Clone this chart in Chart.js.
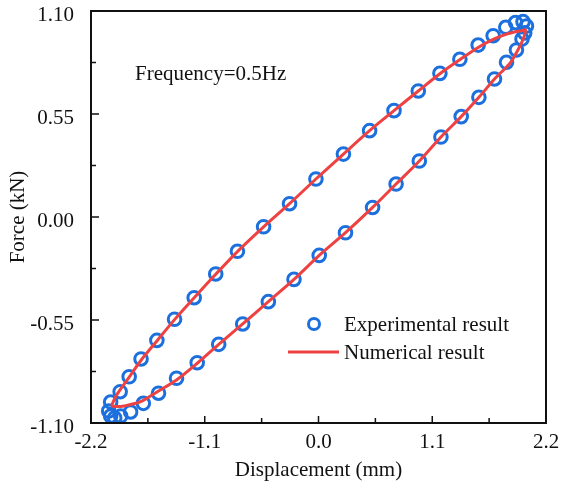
<!DOCTYPE html>
<html>
<head>
<meta charset="utf-8">
<script src="https://cdn.jsdelivr.net/npm/chart.js@4/dist/chart.umd.min.js"></script>
<style>
  html, body { margin: 0; padding: 0; background: #fff; }
  #wrap { width: 561px; height: 488px; }
</style>
</head>
<body>
<div id="wrap"><canvas id="c" width="561" height="488"></canvas></div>
<script>
// Hysteresis loop: force vs displacement at 0.5 Hz
const xTicks = [-2.2, -1.1, 0.0, 1.1, 2.2];
const yTicks = [-1.10, -0.55, 0.00, 0.55, 1.10];

// Experimental points (mm, kN), loading branch then unloading branch
const expDisp = [
  -2.029, -2.010, -1.918, -1.831, -1.716, -1.563, -1.392, -1.202, -0.994, -0.784,
  -0.531, -0.280, -0.025, 0.241, 0.494, 0.730, 0.965, 1.174, 1.367, 1.544,
  1.689, 1.811, 1.905, 1.978, 2.011,
  1.994, 1.968, 1.914, 1.818, 1.702, 1.551, 1.380, 1.184, 0.975, 0.750,
  0.523, 0.261, 0.007, -0.237, -0.485, -0.733, -0.965, -1.173, -1.373, -1.547,
  -1.694, -1.817, -1.913, -1.971, -2.010
];
const expForce = [
  -1.036, -0.988, -0.933, -0.853, -0.758, -0.659, -0.546, -0.431, -0.304, -0.183,
  -0.052, 0.071, 0.203, 0.336, 0.461, 0.568, 0.673, 0.767, 0.842, 0.918,
  0.968, 1.013, 1.038, 1.043, 1.020,
  0.983, 0.950, 0.892, 0.826, 0.737, 0.639, 0.536, 0.427, 0.299, 0.176,
  0.051, -0.084, -0.205, -0.333, -0.452, -0.571, -0.680, -0.778, -0.861, -0.941,
  -0.995, -1.041, -1.063, -1.073, -1.063
];

// Numerical model curve (closed loop)
const numDisp = [
  -2.003, -1.962, -1.897, -1.817, -1.716, -1.563, -1.392, -1.202, -0.994, -0.784,
  -0.531, -0.280, -0.025, 0.241, 0.494, 0.730, 0.965, 1.174, 1.367, 1.544,
  1.689, 1.811, 1.905, 1.965, 2.001,
  1.988, 1.962, 1.914, 1.850, 1.702, 1.551, 1.380, 1.184, 0.975, 0.750,
  0.523, 0.261, 0.007, -0.237, -0.485, -0.733, -0.965, -1.173, -1.373, -1.559,
  -1.720, -1.881, -1.950, -2.003
];
const numForce = [
  -1.009, -0.960, -0.906, -0.844, -0.765, -0.662, -0.548, -0.431, -0.306, -0.185,
  -0.053, 0.071, 0.203, 0.336, 0.461, 0.568, 0.673, 0.765, 0.840, 0.905,
  0.948, 0.975, 0.989, 0.995, 0.999,
  0.963, 0.928, 0.877, 0.820, 0.737, 0.639, 0.536, 0.427, 0.299, 0.176,
  0.051, -0.084, -0.205, -0.333, -0.452, -0.571, -0.680, -0.781, -0.870, -0.933,
  -0.986, -1.009, -1.012, -1.009
];

const BLUE = 'rgb(28,112,222)';
const RED = 'rgb(238,66,66)';
const FONT = 'Liberation Serif';
const FSIZE = 21;

const expPts = expDisp.map((x, i) => ({ x, y: expForce[i] }));
const numPts = numDisp.map((x, i) => ({ x, y: numForce[i] }));

// Frame, inward tick marks, legend and annotation
const decorations = {
  id: 'decorations',
  afterDraw(chart) {
    const { ctx, chartArea: a, scales } = chart;
    const xs = scales.x, ys = scales.y;
    ctx.save();
    ctx.strokeStyle = '#111';
    ctx.lineWidth = 2;
    ctx.strokeRect(a.left, a.top, a.right - a.left, a.bottom - a.top);

    ctx.lineWidth = 1.5;
    ctx.beginPath();
    xTicks.forEach((v, i) => {
      const px = xs.getPixelForValue(v);
      ctx.moveTo(px, a.bottom); ctx.lineTo(px, a.bottom - 7);
      if (i < xTicks.length - 1) {
        const pm = xs.getPixelForValue((v + xTicks[i + 1]) / 2);
        ctx.moveTo(pm, a.bottom); ctx.lineTo(pm, a.bottom - 5);
      }
    });
    yTicks.forEach((v, i) => {
      const py = ys.getPixelForValue(v);
      ctx.moveTo(a.left, py); ctx.lineTo(a.left + 8, py);
      if (i < yTicks.length - 1) {
        const pm = ys.getPixelForValue((v + yTicks[i + 1]) / 2);
        ctx.moveTo(a.left, pm); ctx.lineTo(a.left + 5, pm);
      }
    });
    ctx.stroke();

    // annotation
    ctx.fillStyle = '#111';
    ctx.font = FSIZE + 'px "' + FONT + '"';
    ctx.textBaseline = 'middle';
    ctx.textAlign = 'left';
    ctx.fillText('Frequency=0.5Hz', a.left + 44, a.top + 63);

    // legend
    const lx = a.left + 223, ly = a.top + 313;
    ctx.strokeStyle = BLUE;
    ctx.lineWidth = 3;
    ctx.beginPath();
    ctx.arc(lx, ly, 5.5, 0, Math.PI * 2);
    ctx.stroke();
    ctx.strokeStyle = RED;
    ctx.lineWidth = 3;
    ctx.beginPath();
    ctx.moveTo(a.left + 197, ly + 28);
    ctx.lineTo(a.left + 248, ly + 28);
    ctx.stroke();
    ctx.fillText('Experimental result', a.left + 253, ly + 1);
    ctx.fillText('Numerical result', a.left + 253, ly + 29);
    ctx.restore();
  }
};

new Chart(document.getElementById('c'), {
  type: 'scatter',
  data: {
    datasets: [
      {
        label: 'Numerical result',
        data: numPts,
        showLine: true,
        borderColor: RED,
        borderWidth: 3,
        pointRadius: 0,
        tension: 0.3,
        fill: false,
        order: 0
      },
      {
        label: 'Experimental result',
        data: expPts,
        showLine: false,
        pointStyle: 'circle',
        pointRadius: 6.3,
        borderColor: BLUE,
        backgroundColor: 'rgba(0,0,0,0)',
        pointBorderWidth: 3,
        order: 1
      }
    ]
  },
  options: {
    responsive: false,
    animation: false,
    layout: { padding: { left: 0, top: 11, right: 15, bottom: 0 } },
    plugins: { legend: { display: false }, tooltip: { enabled: false } },
    scales: {
      x: {
        type: 'linear',
        position: 'bottom',
        min: -2.2,
        max: 2.2,
        grid: { display: false, drawTicks: false },
        border: { display: false },
        afterBuildTicks: s => { s.ticks = xTicks.map(v => ({ value: v })); },
        afterFit: s => { s.height = 65; s.paddingLeft = 0; s.paddingRight = 0; },
        ticks: {
          color: '#111',
          font: { family: FONT, size: FSIZE },
          padding: 7,
          maxRotation: 0,
          callback: v => v.toFixed(1)
        },
        title: {
          display: true,
          text: 'Displacement (mm)',
          color: '#111',
          font: { family: FONT, size: FSIZE },
          padding: { top: 0, bottom: 5 }
        }
      },
      y: {
        type: 'linear',
        position: 'left',
        min: -1.1,
        max: 1.1,
        grid: { display: false, drawTicks: false },
        border: { display: false },
        afterBuildTicks: s => { s.ticks = yTicks.map(v => ({ value: v })); },
        afterFit: s => { s.width = 91; s.paddingTop = 0; s.paddingBottom = 0; },
        ticks: {
          color: '#111',
          font: { family: FONT, size: FSIZE },
          padding: 17,
          labelOffset: 4,
          callback: v => v.toFixed(2)
        },
        title: {
          display: true,
          text: 'Force (kN)',
          color: '#111',
          font: { family: FONT, size: FSIZE },
          padding: { top: 6, bottom: 0 }
        }
      }
    }
  },
  plugins: [decorations]
});
</script>
</body>
</html>
